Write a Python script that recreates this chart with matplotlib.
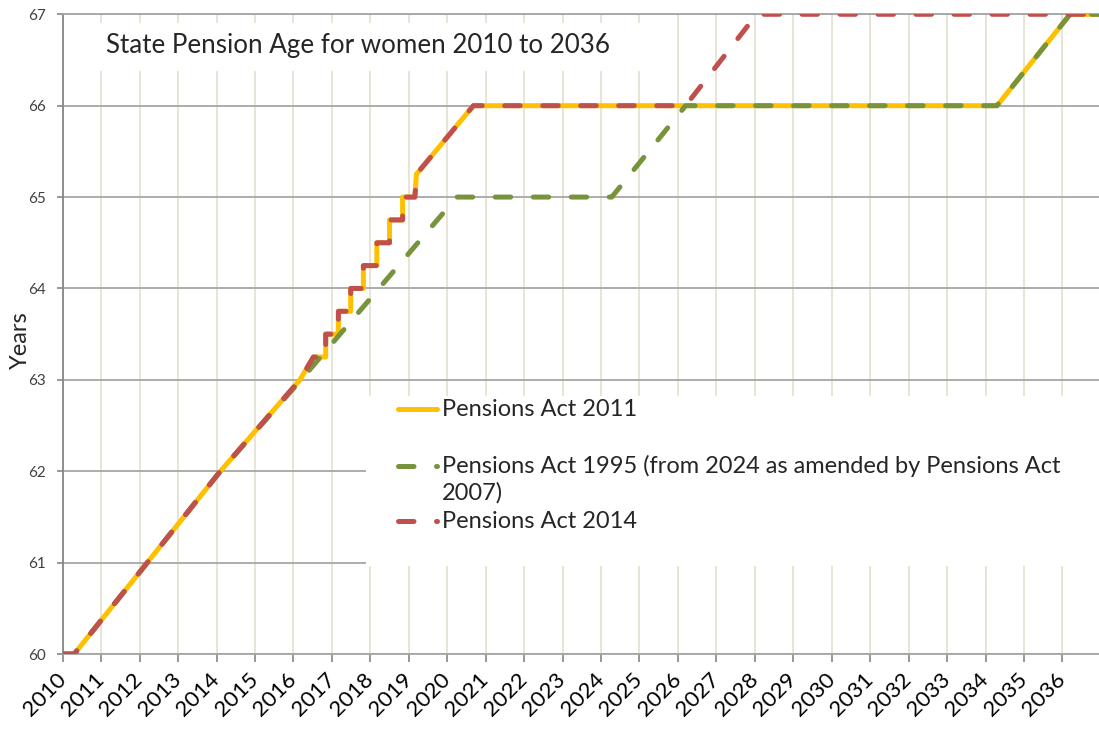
import matplotlib
matplotlib.use("Agg")
import matplotlib.pyplot as plt
from matplotlib.patches import Rectangle
from matplotlib.lines import Line2D

# ---------------- data ----------------
tick_years = list(range(2010, 2037))
tick_labels = [str(y) for y in tick_years]
age_ticks = list(range(60, 68))

# Pensions Act 2011
years_2011 = [2010.0, 2010.3, 2012.2, 2014.1, 2016.17, 2016.52, 2016.84, 2016.84,
              2017.17, 2017.17, 2017.49, 2017.49, 2017.82, 2017.82, 2018.17, 2018.17,
              2018.50, 2018.50, 2018.84, 2018.84, 2019.16, 2019.2, 2020.68, 2034.3,
              2036.2, 2037.0]
spa_2011 = [60, 60, 61, 62, 63, 63.25, 63.25, 63.5,
            63.5, 63.75, 63.75, 64.0, 64.0, 64.25, 64.25, 64.5,
            64.5, 64.75, 64.75, 65.0, 65.0, 65.25, 66, 66,
            67, 67]

# Pensions Act 1995 (from 2024 as amended by Pensions Act 2007)
years_1995 = [2010.0, 2010.3, 2012.2, 2014.1, 2016.2, 2020.25, 2024.28, 2026.2,
              2034.3, 2036.2, 2037.0]
spa_1995 = [60, 60, 61, 62, 63, 65, 65, 66, 66, 67, 67]

# Pensions Act 2014
years_2014 = [2010.0, 2010.3, 2012.2, 2014.1, 2016.17, 2016.52, 2016.84, 2016.84,
              2017.17, 2017.17, 2017.49, 2017.49, 2017.82, 2017.82, 2018.17, 2018.17,
              2018.50, 2018.50, 2018.84, 2018.84, 2019.16, 2019.2, 2020.68, 2026.2,
              2028.05, 2037.0]
spa_2014 = [60, 60, 61, 62, 63, 63.25, 63.25, 63.5,
            63.5, 63.75, 63.75, 64.0, 64.0, 64.25, 64.25, 64.5,
            64.5, 64.75, 64.75, 65.0, 65.0, 65.25, 66, 66,
            67, 67]

labels = ["Pensions Act 2011",
          "Pensions Act 1995 (from 2024 as amended by Pensions Act",
          "2007)",
          "Pensions Act 2014"]
title = "State Pension Age for women 2010 to 2036"

# ---------------- style ----------------
FONT = ["Lato", "DejaVu Sans"]
plt.rcParams["font.family"] = FONT
YEL, GRN, RED = "#FFC000", "#77933C", "#C0504D"
TXT = "#262626"
LW = 3.6
DASH = (3.1, 4.5)

W, H = 1099, 729
fig = plt.figure(figsize=(W / 100, H / 100), dpi=100)
ax_l, ax_r, ax_t, ax_b = 62.7, 62.7 + 27 * 38.45, 14.3, 654.0
ax = fig.add_axes([ax_l / W, 1 - ax_b / H, (ax_r - ax_l) / W, (ax_b - ax_t) / H])

ax.set_xlim(2010, 2037)
ax.set_ylim(60, 67)
ax.set_xticks(tick_years)
ax.set_xticklabels(tick_labels, rotation=45, ha="right", va="center",
                   rotation_mode="anchor", fontsize=16, color="#000000")
ax.set_yticks(age_ticks)
ax.set_yticklabels([str(a) for a in age_ticks], fontsize=11, color="#404040")
ax.tick_params(axis="x", length=6, width=1.2, color="#868686", pad=10, direction="out")
ax.tick_params(axis="y", length=4, width=1.2, color="#868686", pad=8, direction="out")

ax.set_axisbelow(True)
ax.xaxis.grid(True, color="#E6E2D2", linewidth=1.3)
ax.yaxis.grid(True, color="#A6A6A6", linewidth=1.3)
ax.spines["right"].set_visible(False)
ax.spines["top"].set_color("#A6A6A6")
ax.spines["top"].set_linewidth(1.3)
ax.spines["left"].set_color("#868686")
ax.spines["left"].set_linewidth(1.3)
ax.spines["bottom"].set_color("#A6A6A6")
ax.spines["bottom"].set_linewidth(1.3)

def fx(px):
    return (px - ax_l) / (ax_r - ax_l)

def fy(py):
    return (ax_b - py) / (ax_b - ax_t)

# white boxes behind title and legend (hide grid)
ax.add_patch(Rectangle((fx(70), fy(71)), fx(650) - fx(70), fy(23) - fy(71),
                       transform=ax.transAxes, facecolor="white", edgecolor="none", zorder=1))
ax.add_patch(Rectangle((fx(366), fy(566)), 1.0 - fx(366), fy(396) - fy(566),
                       transform=ax.transAxes, facecolor="white", edgecolor="none", zorder=1))

# series
ax.plot(years_2011, spa_2011, color=YEL, lw=LW, solid_joinstyle="round",
        solid_capstyle="round", zorder=3)
ax.plot(years_1995, spa_1995, color=GRN, lw=LW, linestyle=(0, DASH),
        dash_capstyle="round", dash_joinstyle="round", zorder=4)
ax.plot(years_2014, spa_2014, color=RED, lw=LW, linestyle=(0, DASH),
        dash_capstyle="round", dash_joinstyle="round", zorder=5)

# title
ax.text(fx(106), fy(45), title, transform=ax.transAxes, fontsize=18.7,
        color=TXT, ha="left", va="center", zorder=6)

# manual legend
hx0, hx1 = fx(398), fx(437)
tx = fx(442)
for py, col, ls in [(409, YEL, "-"), (466, GRN, (0, DASH)), (521, RED, (0, DASH))]:
    ln = Line2D([hx0, hx1], [fy(py), fy(py)], transform=ax.transAxes, color=col,
                lw=LW, linestyle=ls, solid_capstyle="round", dash_capstyle="round",
                zorder=6)
    ax.add_line(ln)
for py, txt in [(409, labels[0]), (466, labels[1]), (493, labels[2]), (521, labels[3])]:
    ax.text(tx, fy(py), txt, transform=ax.transAxes, fontsize=17,
            color=TXT, ha="left", va="center", zorder=6)

fig.text(20 / W, 1 - 340 / H, "Years", rotation=90, ha="center", va="center",
         fontsize=17, color=TXT)

fig.savefig("out.png", dpi=100)
